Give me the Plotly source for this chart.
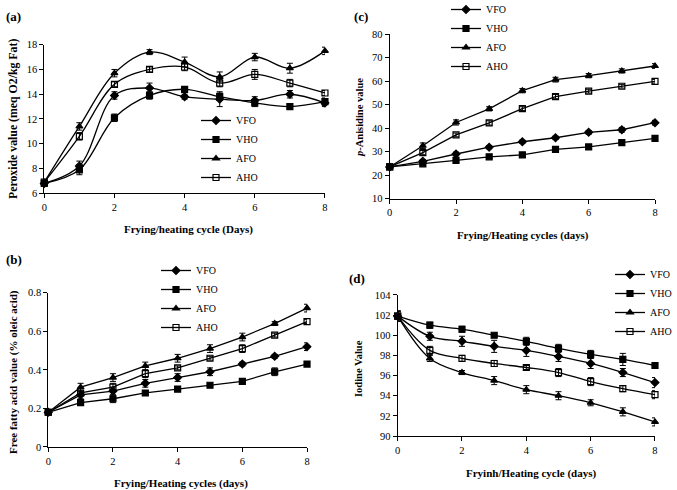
import plotly.graph_objects as go

days = [0, 1, 2, 3, 4, 5, 6, 7, 8]
oils = ["VFO", "VHO", "AFO", "AHO"]

# (a) peroxide value
pv_vfo = [6.8, 8.2, 13.9, 14.5, 13.8, 13.6, 13.5, 14.0, 13.3]
pv_vho = [6.8, 7.9, 12.1, 13.9, 14.4, 13.8, 13.3, 13.0, 13.4]
pv_afo = [6.9, 11.4, 15.7, 17.4, 16.6, 15.4, 17.0, 16.1, 17.5]
pv_aho = [6.9, 10.6, 14.8, 16.0, 16.2, 14.9, 15.6, 14.9, 14.1]
pv_err_vfo = [0.1, 0.4, 0.3, 0.4, 0.2, 0.6, 0.3, 0.3, 0.3]
pv_err_vho = [0.1, 0.4, 0.3, 0.3, 0.2, 0.3, 0.3, 0.2, 0.3]
pv_err_afo = [0.1, 0.3, 0.3, 0.2, 0.4, 0.4, 0.3, 0.4, 0.3]
pv_err_aho = [0.1, 0.3, 0.2, 0.2, 0.3, 0.3, 0.4, 0.3, 0.2]

# (b) free fatty acid
ffa_vfo = [0.18, 0.27, 0.29, 0.33, 0.36, 0.39, 0.43, 0.47, 0.52]
ffa_vho = [0.18, 0.23, 0.25, 0.28, 0.30, 0.32, 0.34, 0.39, 0.43]
ffa_afo = [0.18, 0.31, 0.36, 0.42, 0.46, 0.51, 0.57, 0.64, 0.72]
ffa_aho = [0.18, 0.28, 0.31, 0.38, 0.41, 0.46, 0.51, 0.58, 0.65]
ffa_err_vfo = [0.01, 0.02, 0.02, 0.02, 0.02, 0.02, 0.01, 0.01, 0.02]
ffa_err_vho = [0.01, 0.01, 0.02, 0.01, 0.01, 0.01, 0.01, 0.02, 0.01]
ffa_err_afo = [0.01, 0.02, 0.02, 0.02, 0.02, 0.02, 0.02, 0.01, 0.02]
ffa_err_aho = [0.01, 0.01, 0.02, 0.02, 0.01, 0.01, 0.02, 0.01, 0.01]

# (c) p-anisidine value
av_vfo = [23.5, 25.9, 29.0, 31.9, 34.2, 35.9, 38.2, 39.3, 42.3]
av_vho = [23.5, 24.8, 26.3, 27.8, 28.6, 31.0, 32.0, 33.8, 35.6]
av_afo = [23.5, 32.5, 42.4, 48.2, 55.9, 60.6, 62.3, 64.3, 66.4]
av_aho = [23.5, 29.6, 37.1, 42.2, 48.3, 53.4, 55.7, 57.8, 59.9]
av_err_vfo = [0.6, 0.8, 0.8, 0.7, 0.7, 0.7, 0.8, 1.0, 1.0]
av_err_vho = [0.6, 0.7, 0.7, 0.7, 0.7, 0.8, 0.7, 0.8, 0.9]
av_err_afo = [0.6, 1.2, 1.1, 0.9, 0.9, 1.0, 0.9, 0.9, 1.0]
av_err_aho = [0.6, 0.9, 0.8, 0.9, 0.8, 0.9, 0.8, 0.8, 0.8]

# (d) iodine value
iv_vfo = [101.9, 99.9, 99.4, 98.9, 98.5, 97.9, 97.2, 96.3, 95.3]
iv_vho = [101.9, 101.0, 100.6, 100.0, 99.4, 98.7, 98.1, 97.6, 97.0]
iv_afo = [101.9, 97.7, 96.3, 95.5, 94.6, 94.0, 93.3, 92.4, 91.4]
iv_aho = [101.9, 98.5, 97.7, 97.2, 96.8, 96.3, 95.4, 94.7, 94.1]
iv_err_vfo = [0.5, 0.4, 0.5, 0.6, 0.6, 0.5, 0.5, 0.4, 0.5]
iv_err_vho = [0.5, 0.3, 0.3, 0.2, 0.4, 0.4, 0.4, 0.6, 0.3]
iv_err_afo = [0.5, 0.3, 0.2, 0.4, 0.4, 0.4, 0.3, 0.4, 0.4]
iv_err_aho = [0.5, 0.4, 0.3, 0.3, 0.2, 0.4, 0.4, 0.3, 0.4]

symbols = {"VFO": "diamond", "VHO": "square", "AFO": "triangle-up", "AHO": "square-open"}
sizes = {"VFO": 6, "VHO": 6, "AFO": 6, "AHO": 6}

panels = [
    {"x": "x", "y": "y", "legend": "legend", "shape": "spline",
     "data": [pv_vfo, pv_vho, pv_afo, pv_aho],
     "err": [pv_err_vfo, pv_err_vho, pv_err_afo, pv_err_aho]},
    {"x": "x2", "y": "y2", "legend": "legend2", "shape": "linear",
     "data": [av_vfo, av_vho, av_afo, av_aho],
     "err": [av_err_vfo, av_err_vho, av_err_afo, av_err_aho]},
    {"x": "x3", "y": "y3", "legend": "legend3", "shape": "linear",
     "data": [ffa_vfo, ffa_vho, ffa_afo, ffa_aho],
     "err": [ffa_err_vfo, ffa_err_vho, ffa_err_afo, ffa_err_aho]},
    {"x": "x4", "y": "y4", "legend": "legend4", "shape": "spline",
     "data": [iv_vfo, iv_vho, iv_afo, iv_aho],
     "err": [iv_err_vfo, iv_err_vho, iv_err_afo, iv_err_aho]},
]

fig = go.Figure()
for p in panels:
    for name, vals, err in zip(oils, p["data"], p["err"]):
        fig.add_trace(go.Scatter(
            x=days, y=vals, name=name, mode="lines+markers",
            xaxis=p["x"], yaxis=p["y"], legend=p["legend"],
            line=dict(color="black", width=1.3, shape=p["shape"], smoothing=1),
            marker=dict(symbol=symbols[name], size=sizes[name], color="black",
                        line=dict(color="black", width=1.2)),
            error_y=dict(type="data", array=err, color="black", thickness=1, width=3),
            cliponaxis=False,
        ))

font = "Liberation Serif, Times New Roman, serif"
axis_style = dict(showline=True, linecolor="black", linewidth=1, ticks="outside",
                  ticklen=4, tickcolor="black", showgrid=False, zeroline=False,
                  tickfont=dict(family=font, size=10.5, color="black"))

fig.update_layout(
    width=677, height=490,
    margin=dict(l=0, r=0, t=0, b=0, autoexpand=False),
    paper_bgcolor="white", plot_bgcolor="white",
    font=dict(family=font, size=10, color="black"),
    xaxis=dict(domain=[0.0654, 0.480], range=[0, 8], dtick=2, anchor="y", **axis_style),
    yaxis=dict(domain=[0.6055, 0.9088], range=[6, 18], dtick=2, anchor="x", **axis_style),
    xaxis2=dict(domain=[0.5756, 0.9675], range=[0, 8], dtick=2, anchor="y2", **axis_style),
    yaxis2=dict(domain=[0.5945, 0.9306], range=[10, 80], dtick=10, anchor="x2", **axis_style),
    xaxis3=dict(domain=[0.0713, 0.4535], range=[0, 8], dtick=2, anchor="y3", **axis_style),
    yaxis3=dict(domain=[0.0878, 0.4027], range=[0, 0.8], dtick=0.2, anchor="x3", **axis_style),
    xaxis4=dict(domain=[0.5874, 0.9675], range=[0, 8], dtick=2, anchor="y4", **axis_style),
    yaxis4=dict(domain=[0.1102, 0.398], range=[90, 104], dtick=2, anchor="x4", **axis_style),
)

leg_style = dict(bgcolor="rgba(0,0,0,0)", font=dict(family=font, size=10),
                 xanchor="left", yanchor="top", itemwidth=30, tracegroupgap=0)
fig.update_layout(
    legend=dict(x=196 / 677, y=1 - 106 / 490, **leg_style),
    legend2=dict(x=446 / 677, y=1 + 5 / 490, **leg_style),
    legend3=dict(x=156 / 677, y=1 - 256 / 490, **leg_style),
    legend4=dict(x=610 / 677, y=1 - 260 / 490, **leg_style),
)

# panel letters and axis titles
notes = [
    ("<b>(a)</b>", 4, 17, 0, 13),
    ("<b>(c)</b>", 352, 17, 0, 13),
    ("<b>(b)</b>", 4, 259, 0, 13),
    ("<b>(d)</b>", 347, 278, 0, 13),
    ("<b>Frying/heating cycle (Days)</b>", 188, 229, 0, 11),
    ("<b>Frying/Heating cycles (days)</b>", 523, 235, 0, 10.8),
    ("<b>Frying/Heating cycles (days)</b>", 181, 483, 0, 11),
    ("<b>Fryinh/Heating cycle (days)</b>", 531, 473, 0, 11),
    ("<b>Peroxide value (meq O2/kg Fat)</b>", 13, 119, -90, 11.8),
    ("<b><i>p</i>-Anisidine value</b>", 359, 118, -90, 10.5),
    ("<b>Free fatty acid value (% oleic acid)</b>", 13, 372, -90, 11),
    ("<b>Iodine Value</b>", 358, 369, -90, 10.5),
]
for text, px, py, ang, size in notes:
    fig.add_annotation(
        text=text, x=px / 677, y=1 - py / 490, xref="paper", yref="paper",
        xanchor="left" if text.startswith("<b>(") else "center", yanchor="middle",
        textangle=ang, showarrow=False, font=dict(family=font, size=size, color="black"),
    )

# the page body has an 8px default margin; drop it so the figure fills the window
fig.write_html("out.html", config={"displayModeBar": False},
               post_script="document.body.style.margin='0';")
